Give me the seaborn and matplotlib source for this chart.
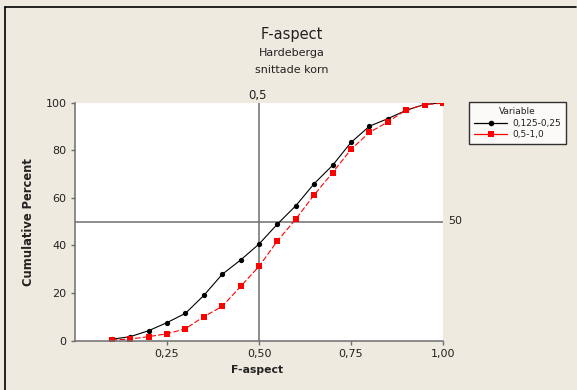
import matplotlib
matplotlib.use("Agg")
import matplotlib.pyplot as plt
from matplotlib.lines import Line2D
import seaborn as sns
import pandas as pd

# Cumulative percent by F-aspect class, for two grain-size fractions
f_aspect = [0.10, 0.15, 0.20, 0.25, 0.30, 0.35, 0.40, 0.45, 0.50, 0.55,
            0.60, 0.65, 0.70, 0.75, 0.80, 0.85, 0.90, 0.95, 1.00]
fine_pct = [0.6, 1.7, 4.2, 7.6, 11.5, 19.0, 27.9, 33.9, 40.6, 49.0,
            56.7, 66.0, 73.7, 83.3, 90.1, 93.3, 96.8, 99.3, 100.0]
coarse_pct = [0.3, 0.7, 1.7, 2.9, 5.0, 10.1, 14.4, 22.8, 31.2, 41.9,
              51.1, 61.3, 70.6, 80.4, 87.5, 91.9, 97.0, 99.2, 99.8]
series_names = ["0,125-0,25", "0,5-1,0"]
x_ticks = [0.25, 0.50, 0.75, 1.00]
x_tick_labels = ["0,25", "0,50", "0,75", "1,00"]
y_ticks = [0, 20, 40, 60, 80, 100]
ref_x = 0.5
ref_y = 50

df = pd.DataFrame({
    "F-aspect": f_aspect + f_aspect,
    "Cumulative Percent": fine_pct + coarse_pct,
    "Variable": [series_names[0]] * len(f_aspect) + [series_names[1]] * len(f_aspect),
})

sns.set_style("white")
plt.rcParams["font.family"] = ["DejaVu Sans"]

bg = "#EEEAE0"
axis_gray = "#6E6E6E"
text_col = "#222222"

fig = plt.figure(figsize=(5.77, 3.90), dpi=100, facecolor=bg)
ax = fig.add_axes([75 / 577, 1 - 340.7 / 390, 368 / 577, 238 / 390])
ax.set_facecolor("white")

sns.lineplot(
    data=df, x="F-aspect", y="Cumulative Percent", hue="Variable", style="Variable",
    palette={series_names[0]: "black", series_names[1]: "#FF0000"},
    markers={series_names[0]: "o", series_names[1]: "s"},
    dashes={series_names[0]: "", series_names[1]: (5, 2)},
    markersize=3.8, markeredgewidth=0, linewidth=0.8, ax=ax, legend=False,
)

# reference lines
ax.axvline(ref_x, color=axis_gray, lw=1.1, zorder=1)
ax.axhline(ref_y, color=axis_gray, lw=1.1, zorder=1)

ax.set_xlim(0, 1.0)
ax.set_ylim(0, 100)
ax.set_xticks(x_ticks)
ax.set_xticklabels(x_tick_labels)
ax.set_yticks(y_ticks)
ax.set_yticklabels([str(v) for v in y_ticks])
ax.tick_params(axis="both", labelsize=8, colors=axis_gray, labelcolor=text_col,
               length=3, width=1, direction="out", pad=3, bottom=True, left=True)

for side in ["top", "right"]:
    ax.spines[side].set_visible(False)
for side in ["left", "bottom"]:
    ax.spines[side].set_color(axis_gray)
    ax.spines[side].set_linewidth(1.1)

ax.set_xlabel("")
ax.set_ylabel("")
fig.text(257.5 / 577, 1 - 370 / 390, "F-aspect", ha="center", va="center",
         fontsize=7.8, fontweight="bold", color=text_col)
fig.text(29 / 577, 1 - 222 / 390, "Cumulative Percent", ha="center", va="center",
         rotation=90, fontsize=8.3, fontweight="bold", color=text_col)

# reference line labels
fig.text(257.5 / 577, 1 - 95 / 390, "0,5", ha="center", va="center",
         fontsize=8.5, color=text_col)
fig.text(448 / 577, 1 - 221 / 390, "50", ha="left", va="center",
         fontsize=8, color=text_col)

# titles
fig.text(292 / 577, 1 - 35 / 390, "F-aspect", ha="center", va="center",
         fontsize=10.5, color=text_col)
fig.text(292 / 577, 1 - 52.5 / 390, "Hardeberga", ha="center", va="center",
         fontsize=8, color=text_col)
fig.text(292 / 577, 1 - 70 / 390, "snittade korn", ha="center", va="center",
         fontsize=8, color=text_col)

# legend
handles = [
    Line2D([], [], color="black", marker="o", markersize=4, markeredgewidth=0, lw=0.9),
    Line2D([], [], color="#FF0000", marker="s", markersize=4, markeredgewidth=0, lw=0.9),
]
leg = fig.legend(handles, series_names, title="Variable",
                 loc="upper left", bbox_to_anchor=(469 / 577, 1 - 102 / 390),
                 bbox_transform=fig.transFigure,
                 fontsize=6.5, title_fontsize=6.5, frameon=True, fancybox=False,
                 borderpad=0.55, handlelength=3.7, handletextpad=0.5,
                 labelspacing=0.3, borderaxespad=0)
leg.get_frame().set_edgecolor("black")
leg.get_frame().set_linewidth(1.0)
leg.get_frame().set_facecolor("white")
leg.get_title().set_color(text_col)
for t in leg.get_texts():
    t.set_color(text_col)

# outer frame along the top and left edges
fig.add_artist(Line2D([5 / 577, 576 / 577], [1 - 7 / 390, 1 - 7 / 390],
                      transform=fig.transFigure, color="black", lw=1.2))
fig.add_artist(Line2D([5 / 577, 5 / 577], [1 - 7 / 390, 0],
                      transform=fig.transFigure, color="black", lw=1.2))

fig.savefig("out.png", dpi=100, facecolor=bg)
